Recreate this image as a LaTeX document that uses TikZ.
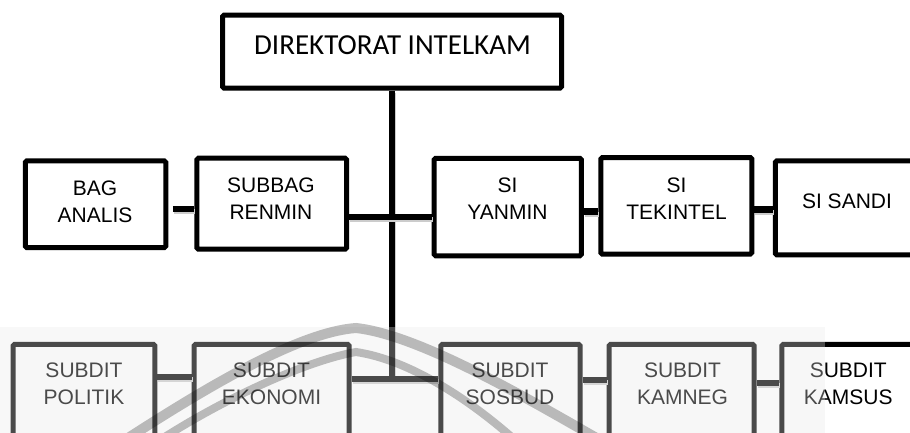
\documentclass[tikz,border=0pt]{standalone}
\usepackage{fontspec}
\setmainfont{Liberation Sans}
\newfontfamily\headfont{Carlito}
\begin{document}
\begin{tikzpicture}[x=1pt,y=-1pt,
  box/.style={draw=black, line width=5pt, rounded corners=1.5pt, inner sep=0pt, fill=white},
  lbl/.style={align=center, inner sep=0pt, font=\fontsize{21}{27}\selectfont},
  link/.style={line width=6.5pt, line cap=butt,
    preaction={draw=black!20, line width=5pt, transform canvas={shift={(1pt,-2.5pt)}}}},
  mark band/.style={draw=black, draw opacity=0.25, line cap=butt},
]
\useasboundingbox (0,0) rectangle (910,433);

% head office
\node[box, minimum width=339pt, minimum height=73pt] (dir) at (392,51.7) {};
\node[anchor=base, inner sep=0pt, font=\headfont\fontsize{29}{34}\selectfont] (dirt) at (392.5,55) {DIREKTORAT INTELKAM};

% staff row
\node[box, minimum width=140.5pt, minimum height=86.7pt] (bag)    at (95.5,204.2) {};
\node[box, minimum width=149.7pt, minimum height=91pt]   (subbag) at (271.7,203.7) {};
\node[box, minimum width=147.3pt, minimum height=97.5pt] (yanmin) at (507.8,207) {};
\node[box, minimum width=151pt,   minimum height=96.5pt] (tek)    at (676.3,205.8) {};
\node[box, minimum width=147.3pt, minimum height=94pt]   (sandi)  at (848.9,207.8) {};

\node[lbl] (bagt)    at (95,202)      {BAG\\ANALIS};
\node[lbl] (subbagt) at (271,198.5)   {SUBBAG\\RENMIN};
\node[lbl] (yanmint) at (507.5,198.5) {SI\\YANMIN};
\node[lbl] (tekt)    at (676.5,199)   {SI\\TEKINTEL};
\node[lbl, anchor=base] (sandit) at (847,208) {SI SANDI};

% sub-directorate row
\node[box, minimum width=141.6pt, minimum height=123.3pt] (pol)    at (84,405.9) {};
\node[box, minimum width=155pt,   minimum height=123.3pt] (eko)    at (271.7,405.9) {};
\node[box, minimum width=139.4pt, minimum height=123.3pt] (sos)    at (510.5,405.9) {};
\node[box, minimum width=145pt,   minimum height=123.3pt] (kamneg) at (681.7,405.9) {};
\node[box, minimum width=145.7pt, minimum height=123.3pt] (kamsus) at (854.7,405.9) {};

\node[lbl] (polt)    at (84,384)    {SUBDIT\\POLITIK};
\node[lbl] (ekot)    at (271.5,384) {SUBDIT\\EKONOMI};
\node[lbl] (sost)    at (510,384)   {SUBDIT\\SOSBUD};
\node[lbl] (kamnegt) at (682.5,384) {SUBDIT\\KAMNEG};
\node[lbl] (kamsust) at (848.3,384) {SUBDIT\\KAMSUS};

% connectors
\coordinate (hub) at (393,379);
\draw[link] (dir.south) -- (dir.south |- hub);
\draw[link, shorten <=4.5pt] ([yshift=-4.8]bag.east) -- ([yshift=-5.3]subbag.west);
\draw[link] ([yshift=-13.3]subbag.east) -- ([yshift=-10]yanmin.west);
\draw[link] ([yshift=-4.5]yanmin.east) -- ([yshift=-5.7]tek.west);
\draw[link] ([yshift=-3.7]tek.east) -- ([yshift=-1.7]sandi.west);
\draw[link] ([yshift=28.9]pol.east) -- ([yshift=28.9]eko.west);
\draw[link] ([yshift=26.9]eko.east) -- ([yshift=26.9]sos.west);
\draw[link] ([yshift=25.9]sos.east) -- ([yshift=25.9]kamneg.west);
\draw[link] ([yshift=22.9]kamneg.east) -- ([yshift=22.9]kamsus.west);

% faded lower band
\fill[black!9, fill opacity=0.32] (0,327) rectangle (825,440);

% arched emblem lines across the lower band
\draw[mark band, line width=10pt] (125,440) .. controls (210,385) and (300,332) .. (356,328)
  .. controls (420,335) and (530,400) .. (600,440);
\draw[mark band, line width=8pt] (160,440) .. controls (230,395) and (310,360) .. (356,352)
  .. controls (410,360) and (470,400) .. (515,440);
\end{tikzpicture}
\end{document}
